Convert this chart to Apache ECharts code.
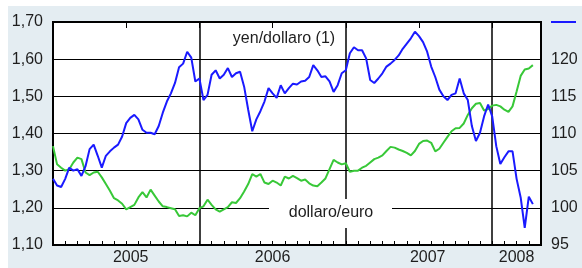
<!DOCTYPE html>
<html>
<head>
<meta charset="utf-8">
<script src="https://cdn.jsdelivr.net/npm/echarts@6/dist/echarts.min.js"></script>
<style>
  html, body { margin: 0; padding: 0; background: #fff; }
  #panel { position: absolute; left: 8px; top: 6px; width: 574px; height: 262px; background: #e4edf2; }
  #chart { position: absolute; left: 0; top: 0; width: 582px; height: 268px; }
</style>
</head>
<body>
<div id="panel"></div>
<div id="chart"></div>
<script>
// rilevazioni ogni 10 giorni (1, 11, 21 del mese) da gennaio 2005
var yenDollaro = [
  103.9, 103.0, 102.8, 103.9, 105.4, 105.0, 105.2, 104.3, 105.6, 107.9,
  108.5, 107.0, 105.4, 107.0, 107.6, 108.1, 108.5, 109.6, 111.4, 112.1,
  112.5, 111.9, 110.5, 110.1, 110.1, 109.9, 111.0, 112.8, 114.3, 115.4,
  116.8, 118.9, 119.4, 121.0, 120.2, 117.0, 117.4, 114.5, 115.2, 117.9,
  118.5, 117.4, 117.9, 118.8, 117.6, 118.1, 118.3, 116.3, 113.2, 110.3,
  111.9, 113.0, 114.3, 116.1, 115.4, 114.8, 116.5, 115.4, 116.1, 116.7,
  116.6, 117.0, 117.1, 117.6, 119.2, 118.5, 117.6, 117.7, 117.0, 115.6,
  116.5, 118.1, 118.5, 120.8, 121.6, 121.2, 121.2, 120.1, 117.2, 116.8,
  117.4, 118.1, 119.0, 119.4, 119.9, 120.5, 121.4, 122.1, 122.8, 123.7,
  123.1, 122.3, 121.0, 119.0, 117.6, 115.9, 115.0, 114.5, 115.2, 115.4,
  117.4, 115.4, 114.5, 111.0, 109.0, 110.1, 112.3, 113.9, 112.3, 108.3,
  105.9, 106.8, 107.6, 107.6, 103.9, 101.4, 97.3, 101.5, 100.5
];
var dollaroEuro = [
  1.366, 1.317, 1.308, 1.300, 1.304, 1.322, 1.335, 1.331, 1.295, 1.288,
  1.295, 1.297, 1.282, 1.264, 1.246, 1.226, 1.220, 1.211, 1.196, 1.202,
  1.208, 1.228, 1.242, 1.228, 1.249, 1.233, 1.217, 1.204, 1.202, 1.199,
  1.196, 1.178, 1.180, 1.177, 1.187, 1.180, 1.199, 1.204, 1.222, 1.208,
  1.196, 1.190, 1.196, 1.202, 1.215, 1.213, 1.226, 1.244, 1.264, 1.291,
  1.284, 1.291, 1.268, 1.264, 1.273, 1.268, 1.260, 1.284, 1.279, 1.286,
  1.280, 1.273, 1.276, 1.266, 1.260, 1.258, 1.268, 1.279, 1.304, 1.329,
  1.322, 1.317, 1.320, 1.297, 1.300, 1.300, 1.308, 1.313, 1.322, 1.331,
  1.335, 1.341, 1.353, 1.364, 1.362, 1.357, 1.353, 1.348, 1.341, 1.353,
  1.372, 1.380, 1.381, 1.375, 1.352, 1.359, 1.375, 1.391, 1.406, 1.414,
  1.415, 1.427, 1.450, 1.468, 1.480, 1.482, 1.462, 1.466, 1.475, 1.477,
  1.473, 1.464, 1.458, 1.473, 1.513, 1.555, 1.572, 1.575, 1.584
];
var yearLabels = ['2005', '2006', '2007', '2008'];
var yearLabelMonth = [6, 18, 31, 38];   // mese (da gen 2005) sotto cui sta l'etichetta

// date come mesi dall'inizio del 2005
var dates = [];
for (var y = 2005; y <= 2008 && dates.length < yenDollaro.length; y++) {
  for (var m = 0; m < 12 && dates.length < yenDollaro.length; m++) {
    [1, 11, 21].forEach(function (d) {
      if (dates.length < yenDollaro.length) dates.push((y - 2005) * 12 + m + (d - 1) / 30);
    });
  }
}

function pairs(vals) {
  var out = [];
  for (var i = 0; i < vals.length; i++) out.push([dates[i], vals[i]]);
  return out;
}

var font = 'Liberation Sans, Arial, sans-serif';
var ink = '#1e1e1e';

var chart = echarts.init(document.getElementById('chart'));
chart.setOption({
  animation: false,
  grid: {
    left: 53, right: 41, top: 22, bottom: 23,
    show: true, backgroundColor: '#fff', borderColor: '#000', borderWidth: 2
  },
  xAxis: [{
    type: 'value', min: 0, max: 40, interval: 1,
    axisLine: { show: false },
    axisTick: { show: true, inside: true, length: 4, lineStyle: { color: '#000', width: 1 } },
    splitLine: { show: false },
    axisLabel: {
      margin: 5, color: ink, fontFamily: font, fontSize: 16,
      formatter: function (v) {
        var i = yearLabelMonth.indexOf(Math.round(v));
        if (i < 0) return '';
        if (i === 0) return '{a|' + yearLabels[i] + '}';
        if (i === 2) return '{b|' + yearLabels[i] + '}';
        return yearLabels[i];
      },
      rich: {
        a: { padding: [0, 0, 0, 9], fontSize: 16, fontFamily: font, color: ink },
        b: { padding: [0, 7, 0, 0], fontSize: 16, fontFamily: font, color: ink }
      }
    }
  }, {
    type: 'value', min: 0, max: 40, interval: 6,
    axisLine: { show: false },
    axisTick: { show: true, inside: true, length: 6, lineStyle: { color: '#000', width: 1 } },
    axisLabel: { show: false },
    splitLine: { show: false }
  }, {
    type: 'value', min: 0, max: 40, interval: 12,
    axisLine: { show: false }, axisTick: { show: false }, axisLabel: { show: false },
    splitLine: { show: true, lineStyle: { color: '#000', width: 1.5 } }
  }],
  yAxis: [{
    type: 'value', min: 1.1, max: 1.7, interval: 0.1, position: 'left',
    axisLine: { show: false }, axisTick: { show: false },
    splitLine: { show: true, lineStyle: { color: '#000', width: 1 } },
    axisLabel: {
      margin: 10, color: ink, fontFamily: font, fontSize: 16,
      formatter: function (v) { return v.toFixed(2).replace('.', ','); }
    }
  }, {
    type: 'value', min: 95, max: 125, interval: 5, position: 'right',
    axisLine: { show: false }, axisTick: { show: false }, splitLine: { show: false },
    axisLabel: {
      margin: 10, color: ink, fontFamily: font, fontSize: 16,
      formatter: function (v) { return v === 125 ? '{dash|}' : String(v); },
      rich: { dash: { width: 25, height: 2, backgroundColor: '#1a1aff' } }
    }
  }],
  series: [{
    name: 'dollaro/euro', type: 'line', xAxisIndex: 0, yAxisIndex: 0,
    data: pairs(dollaroEuro), showSymbol: false,
    lineStyle: { color: '#38c838', width: 2 }, z: 3
  }, {
    name: 'yen/dollaro (1)', type: 'line', xAxisIndex: 0, yAxisIndex: 1,
    data: pairs(yenDollaro), showSymbol: false,
    lineStyle: { color: '#1a1aff', width: 2 }, z: 4
  }],
  graphic: [{
    type: 'text', x: 284, y: 39, z: 100,
    style: { text: 'yen/dollaro (1)', fill: ink, font: '16px ' + font, textAlign: 'center', textVerticalAlign: 'middle' }
  }, {
    type: 'rect', z: 99, shape: { x: 269, y: 199, width: 123, height: 29 },
    style: { fill: '#fff' }
  }, {
    type: 'text', x: 331, y: 213, z: 100,
    style: { text: 'dollaro/euro', fill: ink, font: '16px ' + font, textAlign: 'center', textVerticalAlign: 'middle' }
  }]
});
</script>
</body>
</html>
